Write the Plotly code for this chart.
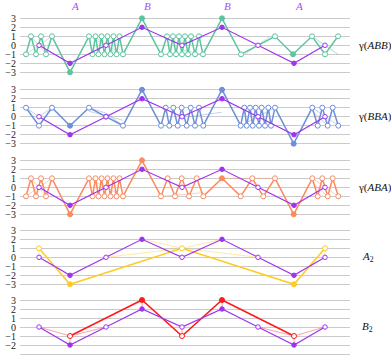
import plotly.graph_objects as go

# ---------------- data ----------------
purple_x = [39, 70, 106, 142, 182, 222, 258, 294, 325]
purple_y = [0, -2, 0, 2, 0, 2, 0, -2, 0]
top_labels = ["A", "B", "B", "A"]
top_label_x = [70, 142, 222, 294]

abb_x = [26, 31, 36, 41, 46, 52, 70, 89, 92.5, 95.5, 98.5, 101.5, 104.5, 107.5, 110.5, 113.5,
         116.5, 119.5, 123, 142, 161, 167, 170, 173, 176, 179, 182, 185, 188, 191, 195, 199, 203,
         222, 241, 275, 293, 312, 325, 338]
abb_y = [-1, 1, -1, 1, -1, 1, -3, 1, -1, 1, -1, 1, -1, 1, -1, 1, -1, 1, -1, 3, -1, 1, -1, 1, -1,
         1, -1, 1, -1, 1, -1, 1, -1, 3, -1, 1, -1, 1, -1, 1]
abb_faint_x = [26, 52, None, 31, 46, None, 89, 123, None, 95, 117, None, 161, 203, None, 182, 203,
               None, 241, 275, None, 245, 270, None, 312, 338, None, 318, 338]
abb_faint_y = [-1, 1, None, 1, -1, None, 1, -1, None, 1, -1, None, -1, -1, None, -0.5, -1,
               None, -1, 1, None, -1, 1, None, 1, -1, None, 0.5, -1]

bba_x = [26, 39, 52, 70, 89, 106, 123, 142, 161, 165.7, 169.3, 173.3, 177.7, 181.7, 186.7, 190.7,
         195, 199, 203.3, 222, 240.7, 244.3, 246.7, 250, 252.7, 255.7, 259, 261.7, 265, 268.3, 271,
         275, 293.7, 312.3, 317.7, 322.3, 327.7, 332.7, 338.3]
bba_y = [1, -1, 1, -1, 1, 0, -1, 3, -1, 1, -1, 1, -1, 1, -1, 1, -1, 1, -1, 3, -1, 1, -1, 1, -1,
         1, -1, 1, -1, 1, -1, 1, -3, 1, -1, 1, -1, 1, -1]
bba_faint_x = [26, 39, 52, None, 89, 106, 123, None, 89, 123, None, 161, 203, None, 190, 222, None,
               240.7, 275, None, 312.3, 338.3, None, 312.3, 327.7]
bba_faint_y = [1, 0, 1, None, 1, 0.4, -1, None, 0.6, -0.4, None, -1, -1, None, 0, 0.5, None,
               -1, 1, None, 1, -1, None, 0.6, -1]

aba_x = [26, 31, 36, 41, 46, 52, 70, 89, 92.5, 95.5, 98.5, 101.5, 104.5, 107.5, 110.5, 113.5,
         116.5, 119.5, 123, 142, 161, 167.7, 175, 181.7, 189, 196.7, 203.3, 222, 240.7, 252.3,
         263.3, 275, 293.7, 312.3, 317.7, 322.3, 327.7, 332.7, 338.3]
aba_y = [-1, 1, -1, 1, -1, 1, -3, 1, -1, 1, -1, 1, -1, 1, -1, 1, -1, 1, -1, 3, -1, 1, -1, 1, -1,
         1, -1, 1, -1, 1, -1, 1, -3, 1, -1, 1, -1, 1, -1]
aba_faint_x = [26, 52, None, 31, 46, None, 89, 123, None, 161, 203, None, 222, 252.3, 275, None,
               312.3, 338.3, None, 312.3, 327.7]
aba_faint_y = [-1, 1, None, 1, -1, None, 1, -1, None, -1, -0.6, None, 1, 1, 1, None,
               1, -1, None, 0.5, -1]

a2_x = [39, 70, 182, 294, 325]
a2_y = [1, -3, 1, -3, 1]
a2_faint_x = [106, 182, 222, None, 142, 182, 258, None, 39, 39, None, 325, 325]
a2_faint_y = [0, 1, 2, None, 2, 1, 0, None, 1, 0, None, 1, 0]

b2_x = [70, 142, 182, 222, 294]
b2_y = [-1, 3, -1, 3, -1]
b2_faint_x = [39, 70, 106, None, 258, 294, 325, None, 142, 142, None, 182, 182, None, 222, 222,
              None, 70, 70, None, 294, 294]
b2_faint_y = [0, -1, 0, None, 0, -1, 0, None, 3, 2, None, -1, 0, None, 3, 2, None, -1, -2,
              None, -1, -2]

panel_names = ["γ(<i>ABB</i>)", "γ(<i>BBA</i>)", "γ(<i>ABA</i>)",
               "<i>A</i><sub>2</sub>", "<i>B</i><sub>2</sub>"]
tick_vals = [-3, -2, -1, 0, 1, 2, 3]

# ---------------- style ----------------
W, H = 391, 359
PLOT_L, PLOT_R = 20, 350
top3_px = [18.3, 89.7, 160.3, 230.3, 300.0]
unit_px = 9.0
YLO, YHI = -3.4, 3.4
PURPLE = "#a033f0"
LABEL_PURPLE = "#a64dff"
FONT = "Liberation Serif"

series = [
    (abb_x, abb_y, abb_faint_x, abb_faint_y, "#5cc49e", {70, 142, 222, 293}),
    (bba_x, bba_y, bba_faint_x, bba_faint_y, "#6d8fd9", {70, 142, 222, 293.7}),
    (aba_x, aba_y, aba_faint_x, aba_faint_y, "#fc8a5e", {70, 142, 222, 293.7}),
    (a2_x, a2_y, a2_faint_x, a2_faint_y, "#ffcc22", {70, 294}),
    (b2_x, b2_y, b2_faint_x, b2_faint_y, "#ff1a1a", {142, 222}),
]

fig = go.Figure()
layout_axes = {}
annotations = []
for i, (sx, sy, fx, fy, col, filled) in enumerate(series):
    yname = "y" if i == 0 else f"y{i+1}"
    lname = "yaxis" if i == 0 else f"yaxis{i+1}"
    top_px = top3_px[i] - (YHI - 3) * unit_px
    bot_px = top3_px[i] + (3 - YLO) * unit_px
    layout_axes[lname] = dict(
        domain=[(H - bot_px) / H, (H - top_px) / H], range=[YLO, YHI],
        tickvals=tick_vals, showgrid=True, gridcolor="#cacaca", gridwidth=1,
        zeroline=False, showline=False, ticks="", anchor="x", automargin=False,
        ticklabelstandoff=3,
        tickfont=dict(family=FONT, size=10, color="#222"), fixedrange=True,
    )
    # faint line
    fig.add_trace(go.Scatter(x=fx, y=fy, yaxis=yname, mode="lines",
                             line=dict(color=col, width=1), opacity=0.4,
                             hoverinfo="skip", cliponaxis=False))
    # bold line
    fills = [col if x in filled else "white" for x in sx]
    fig.add_trace(go.Scatter(x=sx, y=sy, yaxis=yname, mode="lines+markers",
                             line=dict(color=col, width=1.5),
                             marker=dict(size=5, color=fills, line=dict(color=col, width=1)),
                             cliponaxis=False))
    # purple reference
    pfill = [PURPLE if v != 0 else "white" for v in purple_y]
    fig.add_trace(go.Scatter(x=purple_x, y=purple_y, yaxis=yname, mode="lines+markers",
                             line=dict(color=PURPLE, width=1.2),
                             marker=dict(size=4.5, color=pfill, symbol="circle",
                                         line=dict(color=PURPLE, width=1)),
                             cliponaxis=False))
    xoff = 356 if i < 3 else 360
    annotations.append(dict(x=(xoff - PLOT_L) / (PLOT_R - PLOT_L), xref="paper", y=0, yref=yname,
                            text=panel_names[i], showarrow=False, xanchor="left",
                            font=dict(family=FONT, size=11, color="#111")))

for lab, lx in zip(top_labels, top_label_x):
    annotations.append(dict(x=lx, xref="x", y=(H - 6) / H, yref="paper", xshift=5,
                            text=f"<i>{lab}</i>", showarrow=False, yanchor="middle",
                            font=dict(family=FONT, size=11, color=LABEL_PURPLE)))

fig.update_layout(
    width=W, height=H, margin=dict(l=PLOT_L, r=W - PLOT_R, t=0, b=0, autoexpand=False),
    paper_bgcolor="white", plot_bgcolor="white", showlegend=False,
    xaxis=dict(range=[PLOT_L, PLOT_R], showgrid=False, zeroline=False, showticklabels=False,
               ticks="", showline=False, fixedrange=True, automargin=False),
    annotations=annotations,
    **layout_axes,
)
fig.write_html("out.html", config={"displayModeBar": False},
               post_script="document.body.style.margin='0';document.body.style.overflow='hidden';")
